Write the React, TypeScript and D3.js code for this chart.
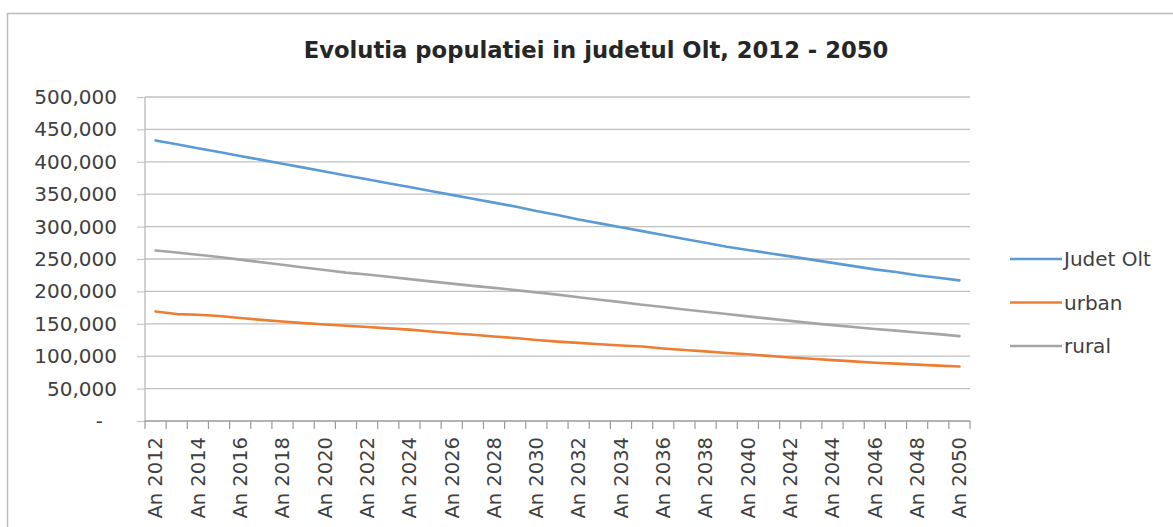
import React, { useRef, useEffect } from 'react';
import * as d3 from 'd3';

// Categories (one per year)
const categories = [
    "An 2012", "An 2013", "An 2014", "An 2015", "An 2016", "An 2017", "An 2018", "An 2019",
    "An 2020", "An 2021", "An 2022", "An 2023", "An 2024", "An 2025", "An 2026", "An 2027",
    "An 2028", "An 2029", "An 2030", "An 2031", "An 2032", "An 2033", "An 2034", "An 2035",
    "An 2036", "An 2037", "An 2038", "An 2039", "An 2040", "An 2041", "An 2042", "An 2043",
    "An 2044", "An 2045", "An 2046", "An 2047", "An 2048", "An 2049", "An 2050"
];

// Only every second category gets a label
const labelledCategories = categories.filter((_, i) => i % 2 === 0);

const judetOlt = [
    433000, 427000, 421000, 415000, 409000, 403000, 397000, 391000,
    385000, 379000, 373000, 367000, 361000, 355000, 349000, 343000,
    337000, 331000, 324000, 318000, 311000, 305000, 299000, 293000,
    287000, 281000, 275000, 269000, 264000, 259000, 254000, 249000,
    244000, 239000, 234000, 230000, 225000, 221000, 217000
];

const urban = [
    169000, 165000, 164000, 162000, 159000, 156000, 153500, 151000,
    149000, 147000, 145000, 143000, 141000, 138000, 135500, 133000,
    130500, 128000, 125000, 122500, 120500, 118500, 116500, 115000,
    112000, 109500, 107500, 105000, 103000, 100500, 98000, 96000,
    94000, 92000, 90000, 88500, 87000, 85500, 84000
];

const rural = [
    263000, 260000, 256500, 253000, 249000, 245000, 241000, 237000,
    233000, 229000, 226000, 222500, 219000, 215500, 212000, 208500,
    205500, 202000, 198500, 195000, 191000, 187000, 183500, 179500,
    176000, 172000, 168500, 165000, 161500, 158000, 154500, 151000,
    148000, 145000, 142000, 139500, 136500, 134000, 131000
];

const yTicks = [0, 50000, 100000, 150000, 200000, 250000, 300000, 350000, 400000, 450000, 500000];

const seriesNames = ["Judet Olt", "urban", "rural"];
const seriesColors = ["#5b9bd5", "#ed7d31", "#a5a5a5"];

const FONT = "'DejaVu Sans', sans-serif";
const TEXT = "#404040";

export default function App() {
    const svgRef = useRef(null);

    useEffect(() => {
        const W = 1173;
        const H = 527;
        const plot = { left: 145, right: 970, top: 97, bottom: 421 };

        const svg = d3.select(svgRef.current)
            .attr('width', W)
            .attr('height', H);

        svg.selectAll('*').remove();

        svg.append('rect')
            .attr('x', 0).attr('y', 0).attr('width', W).attr('height', H)
            .attr('fill', '#fff');

        // chart border (continues past the right and bottom edges)
        svg.append('rect')
            .attr('x', 7.5).attr('y', 13.5)
            .attr('width', 1300).attr('height', 700)
            .attr('fill', 'none')
            .attr('stroke', '#bcbcbc')
            .attr('stroke-width', 1.5);

        const xScale = d3.scaleBand()
            .domain(categories)
            .range([plot.left, plot.right])
            .padding(0);

        const yScale = d3.scaleLinear()
            .domain([0, 500000])
            .range([plot.bottom, plot.top]);

        const cx = (c: string) => xScale(c) + xScale.bandwidth() / 2;

        // y axis labels + small outer ticks
        const yAxis = d3.axisLeft(yScale)
            .tickValues(yTicks)
            .tickSize(8)
            .tickPadding(20)
            .tickFormat((d: any) => d === 0 ? "-" : d3.format(",")(d));

        const yg = svg.append('g')
            .attr('transform', `translate(${plot.left},0)`)
            .call(yAxis);
        yg.select('.domain').remove();
        yg.selectAll('.tick line').attr('stroke', '#c0c0c0');
        yg.selectAll('.tick text')
            .attr('fill', TEXT)
            .style('font-family', FONT)
            .style('font-size', '20px')
            .attr('dx', (d: any) => d === 0 ? -14 : 0);

        // gridlines
        svg.append('g')
            .selectAll('line')
            .data(yTicks.filter(t => t > 0))
            .enter().append('line')
            .attr('x1', plot.left)
            .attr('x2', plot.right)
            .attr('y1', d => yScale(d))
            .attr('y2', d => yScale(d))
            .attr('stroke', '#c0c0c0')
            .attr('stroke-width', 1.3);

        // vertical axis line
        svg.append('line')
            .attr('x1', plot.left).attr('x2', plot.left)
            .attr('y1', plot.top).attr('y2', plot.bottom)
            .attr('stroke', '#b8b8b8')
            .attr('stroke-width', 1.3);

        // category axis: ticks on band edges, labels on every second category
        const edges = categories.map(c => xScale(c)).concat([plot.right]);
        svg.append('g')
            .selectAll('line')
            .data(edges)
            .enter().append('line')
            .attr('x1', d => d).attr('x2', d => d)
            .attr('y1', plot.bottom).attr('y2', plot.bottom + 8)
            .attr('stroke', '#9a9a9a')
            .attr('stroke-width', 1.2);

        svg.append('line')
            .attr('x1', plot.left).attr('x2', plot.right)
            .attr('y1', plot.bottom).attr('y2', plot.bottom)
            .attr('stroke', '#9a9a9a')
            .attr('stroke-width', 1.3);

        svg.append('g')
            .selectAll('text')
            .data(labelledCategories)
            .enter().append('text')
            .attr('transform', d => `translate(${cx(d)},${plot.bottom + 16}) rotate(-90)`)
            .attr('dy', '0.35em')
            .attr('text-anchor', 'end')
            .attr('fill', TEXT)
            .style('font-family', FONT)
            .style('font-size', '19.5px')
            .text(d => d);

        // series lines
        const line = d3.line<number>()
            .x((_, i) => cx(categories[i]))
            .y(d => yScale(d));

        [judetOlt, urban, rural].forEach((values, k) => {
            svg.append('path')
                .datum(values)
                .attr('fill', 'none')
                .attr('stroke', seriesColors[k])
                .attr('stroke-width', 2.6)
                .attr('stroke-linejoin', 'round')
                .attr('stroke-linecap', 'round')
                .attr('d', line);
        });

        // title
        svg.append('text')
            .attr('x', 596)
            .attr('y', 58)
            .attr('text-anchor', 'middle')
            .attr('fill', '#262626')
            .style('font-family', FONT)
            .style('font-weight', 'bold')
            .style('font-size', '22.7px')
            .text('Evolutia populatiei in judetul Olt, 2012 - 2050');

        // legend
        const legend = svg.selectAll('.legend')
            .data(seriesNames)
            .enter().append('g')
            .attr('class', 'legend')
            .attr('transform', (d, i) => `translate(1010, ${259 + i * 43.5})`);

        legend.append('line')
            .attr('x1', 0).attr('x2', 52)
            .attr('y1', 0).attr('y2', 0)
            .attr('stroke', (d, i) => seriesColors[i])
            .attr('stroke-width', 2.6);

        legend.append('text')
            .attr('x', 54)
            .attr('dy', '0.35em')
            .attr('fill', TEXT)
            .style('font-family', FONT)
            .style('font-size', '20px')
            .text(d => d);

        return () => {
            d3.select(svgRef.current).selectAll('*').remove();
        };
    }, []);

    return (
        <svg ref={svgRef} style={{ position: 'absolute', left: 0, top: 0, display: 'block' }}></svg>
    );
}
